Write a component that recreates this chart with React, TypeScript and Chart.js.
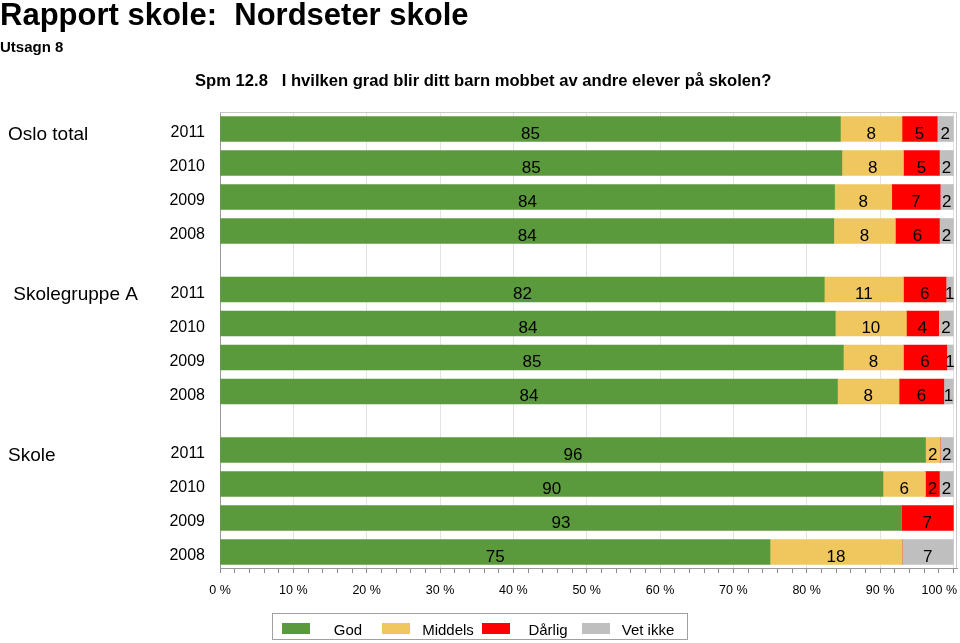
import React, { useEffect, useRef } from 'react';
import { Chart, registerables } from 'chart.js';

Chart.register(...registerables);

const FONT = '"Liberation Sans", Arial, Helvetica, sans-serif';

const titleText = 'Rapport skole:  Nordseter skole';
const subtitleText = 'Utsagn 8';
const questionText = 'Spm 12.8   I hvilken grad blir ditt barn mobbet av andre elever på skolen?';

const groups = ['Oslo total', ' Skolegruppe A', 'Skole'];
const years = ['2011', '2010', '2009', '2008'];
const seriesNames = ['God', 'Middels', 'Dårlig', 'Vet ikke'];
const seriesColors = ['#5b9a3c', '#f0c75f', '#ff0000', '#bfbfbf'];

// order: Oslo total 2011..2008, Skolegruppe A 2011..2008, Skole 2011..2008
const god = [84.6, 84.8, 83.8, 83.7, 82.4, 83.9, 85.0, 84.2, 96.2, 90.4, 92.9, 75.0];
const middels = [8.4, 8.4, 7.8, 8.4, 10.8, 9.7, 8.2, 8.4, 2.0, 5.8, 0, 18.0];
const darlig = [4.8, 4.9, 6.6, 6.0, 5.8, 4.4, 5.9, 6.1, 0, 1.9, 7.1, 0];
const vetIkke = [2.2, 1.9, 1.8, 1.9, 1.0, 2.0, 0.9, 1.3, 1.8, 1.9, 0, 7.0];

const xTickValues = [0, 10, 20, 30, 40, 50, 60, 70, 80, 90, 100];
const xTickLabels = ['0 %', '10 %', '20 %', '30 %', '40 %', '50 %', '60 %', '70 %', '80 %', '90 %', '100 %'];
const xMinorStep = 2;

const GROUP_STRIDE = 4.72;

export default function App() {
  const ref = useRef<HTMLCanvasElement>(null);

  useEffect(() => {
    if (!ref.current) return;
    const series = [god, middels, darlig, vetIkke];
    const rows: number[] = [];
    groups.forEach((_, gi) => years.forEach((_, yi) => rows.push(gi * GROUP_STRIDE + yi)));

    const minorTicks: number[] = [];
    for (let v = 0; v <= 100; v += xMinorStep) minorTicks.push(v);

    const datasets = seriesNames.map((name, si) => ({
      label: name,
      data: series[si].map((v, i) => ({ x: v, y: rows[i] })),
      backgroundColor: seriesColors[si],
      borderWidth: 0,
      barThickness: 25,
    }));

    const labelPlugin = {
      id: 'customLabels',
      afterDatasetsDraw(chart: any) {
        const ctx = chart.ctx;
        ctx.save();
        ctx.font = `17px ${FONT}`;
        ctx.fillStyle = '#000';
        ctx.textAlign = 'center';
        ctx.textBaseline = 'alphabetic';
        chart.data.datasets.forEach((_: any, di: number) => {
          const meta = chart.getDatasetMeta(di);
          meta.data.forEach((el: any, i: number) => {
            const v = series[di][i];
            if (!v) return;
            const p = el.getProps(['x', 'base', 'y'], true);
            ctx.fillText(String(Math.round(v)), (p.x + p.base) / 2, p.y + 9.5);
          });
        });
        ctx.restore();
      },
      afterDraw(chart: any) {
        const ctx = chart.ctx;
        const ca = chart.chartArea;
        const xs = chart.scales.x;
        const ys = chart.scales.y;
        ctx.save();
        // frame top & right
        ctx.strokeStyle = '#c8c8c8';
        ctx.lineWidth = 1;
        ctx.beginPath();
        ctx.moveTo(ca.left, ca.top + 0.5);
        ctx.lineTo(ca.right - 0.5, ca.top + 0.5);
        ctx.lineTo(ca.right - 0.5, ca.bottom);
        ctx.stroke();
        // group labels
        ctx.fillStyle = '#000';
        ctx.font = `19px ${FONT}`;
        ctx.textAlign = 'left';
        ctx.textBaseline = 'alphabetic';
        groups.forEach((g, gi) => {
          ctx.fillText(g, 8, ys.getPixelForValue(gi * GROUP_STRIDE) + 10.5);
        });
        // x tick labels
        ctx.font = `12.5px ${FONT}`;
        ctx.textAlign = 'center';
        xTickLabels.forEach((lab, i) => {
          const w = ctx.measureText(lab).width;
          let x = xs.getPixelForValue(xTickValues[i]);
          x = Math.min(x, chart.width - 3 - w / 2);
          ctx.fillText(lab, x, xs.top + 25.5);
        });
        ctx.restore();
      },
    };

    const chart = new Chart(ref.current, {
      type: 'bar',
      data: { datasets } as any,
      options: {
        indexAxis: 'y',
        animation: false,
        responsive: false,
        devicePixelRatio: 1,
        layout: { padding: { top: 112, left: 0, right: 3, bottom: 0 } },
        plugins: { legend: { display: false }, tooltip: { enabled: false } },
        scales: {
          x: {
            type: 'linear',
            stacked: true,
            min: 0,
            max: 100.5,
            afterBuildTicks: (s: any) => {
              s.ticks = minorTicks.map((v) => ({ value: v }));
            },
            afterFit: (s: any) => {
              s.height = 75;
              s.paddingLeft = 0;
              s.paddingRight = 0;
            },
            ticks: { display: false },
            grid: {
              color: (c: any) =>
                c.tick && c.tick.value % 10 === 0 && c.tick.value > 0 ? '#e3e3e3' : 'rgba(0,0,0,0)',
              tickColor: '#8a8a8a',
              tickLength: 5,
              drawTicks: true,
              lineWidth: 1,
            },
            border: { display: true, color: '#999' },
          },
          y: {
            type: 'linear',
            stacked: true,
            reverse: true,
            offset: false,
            min: -0.5,
            max: 12.91,
            afterBuildTicks: (s: any) => {
              s.ticks = rows.map((v) => ({ value: v }));
            },
            afterFit: (s: any) => {
              s.width = 220;
            },
            ticks: {
              autoSkip: false,
              padding: 15,
              labelOffset: 4,
              color: '#000',
              font: { size: 16, family: FONT },
              callback: (_v: any, i: number) => years[i % years.length],
            },
            grid: { display: false, drawTicks: false },
            border: { display: true, color: '#999' },
          },
        },
      } as any,
      plugins: [labelPlugin],
    });
    return () => chart.destroy();
  }, []);

  const textBase: React.CSSProperties = {
    position: 'absolute',
    fontFamily: FONT,
    color: '#000',
    whiteSpace: 'pre',
    margin: 0,
  };

  return (
    <div
      style={{
        position: 'absolute',
        left: 0,
        top: 0,
        width: 960,
        height: 643,
        background: '#fff',
        overflow: 'hidden',
        fontFamily: FONT,
      }}
    >
      <canvas ref={ref} width={960} height={643} style={{ position: 'absolute', left: 0, top: 0 }} />
      <div style={{ ...textBase, left: 0, top: -1, fontSize: 31, lineHeight: '31px', fontWeight: 'bold' }}>
        {titleText}
      </div>
      <div style={{ ...textBase, left: 0, top: 39, fontSize: 15, lineHeight: '15px', fontWeight: 'bold' }}>
        {subtitleText}
      </div>
      <div style={{ ...textBase, left: 195, top: 72.5, fontSize: 16.6, lineHeight: '16.6px', fontWeight: 'bold' }}>
        {questionText}
      </div>
      <div
        style={{
          position: 'absolute',
          left: 272,
          top: 613,
          width: 416,
          height: 27,
          boxSizing: 'border-box',
          border: '1px solid #a0a0a0',
        }}
      />
      {seriesNames.map((name, i) => (
        <React.Fragment key={name}>
          <div
            style={{
              position: 'absolute',
              left: 282 + 100 * i,
              top: 623,
              width: 28,
              height: 11,
              background: seriesColors[i],
            }}
          />
          <div
            style={{
              ...textBase,
              left: 298 + 100 * i,
              top: 622,
              width: 100,
              textAlign: 'center',
              fontSize: 15,
              lineHeight: '15px',
            }}
          >
            {name}
          </div>
        </React.Fragment>
      ))}
    </div>
  );
}
